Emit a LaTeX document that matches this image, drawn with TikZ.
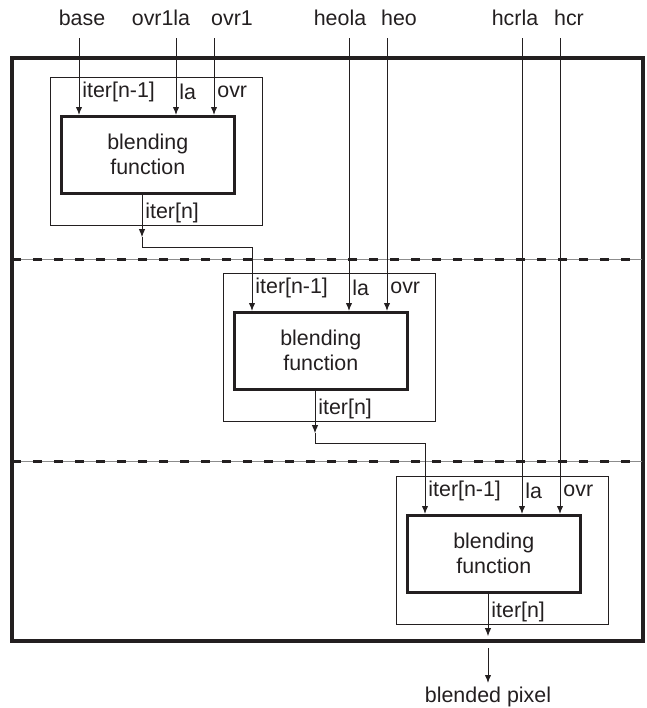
\documentclass[tikz,border=0pt]{standalone}
\usepackage{fontspec}
\setmainfont{Liberation Sans}
\usepackage{tikz}
\usetikzlibrary{arrows.meta, positioning, calc}
\definecolor{inkblack}{HTML}{231F20}
\definecolor{rulegray}{HTML}{8C8C8C}

\begin{document}
\begin{tikzpicture}[
  x=0.5pt, y=-0.5pt,
  every node/.style={font=\fontsize{10.7}{12.5}\selectfont, text=inkblack},
  modbox/.style={draw=inkblack, line width=0.6pt, minimum width=106pt, minimum height=74pt, anchor=north west, inner sep=0pt},
  blendbox/.style={draw=inkblack, line width=1.3pt, minimum width=86.5pt, minimum height=38.5pt, anchor=north west, align=center, inner sep=0pt},
  portlabel/.style={anchor=west, inner sep=1.5pt},
  toplabel/.style={inner sep=1pt},
  wire/.style={draw=inkblack, line width=0.5pt},
  conn/.style={wire, -{Latex[length=4pt,width=3.2pt]}},
  framebox/.style={draw=inkblack, line width=2.4pt},
  stagerule/.style={draw=inkblack, line width=1.5pt, dash pattern=on 4.5pt off 6pt,
    preaction={draw=rulegray, line width=0.5pt, solid}}
]
\useasboundingbox (0,0) rectangle (647,708);

% outer frame and stage separators
\draw[framebox] (12,58) rectangle (643,641);
\draw[stagerule] (12,259) -- (643,259);
\draw[stagerule] (12,461) -- (643,461);

% the three blending stages
\foreach \i/\mx/\my in {1/50/77, 2/223/273, 3/396/476} {
  \node[modbox] (mod\i) at (\mx,\my) {};
  \node[blendbox] (blend\i) at ($(mod\i.north west)+(10,38)$) {blending\\function};
  \coordinate (pin-iter\i) at ($(blend\i.north west)+(19,0)$);
  \coordinate (pin-la\i) at ($(blend\i.north west)+(116,0)$);
  \coordinate (pin-ovr\i) at ($(blend\i.north west)+(154,0)$);
  \coordinate (out\i) at ($(blend\i.south west)+(82,0)$);
  \coordinate (tip\i) at ($(out\i |- mod\i.south)+(0,11)$);
  \coordinate (bend\i) at ($(out\i |- mod\i.south)+(0,21)$);
  \node[portlabel] (lbliter\i) at ($(pin-iter\i)+(0,-23)$) {iter[n-1]};
  \node[portlabel] (lblla\i) at ($(pin-la\i)+(0,-23)$) {la};
  \node[portlabel] (lblovr\i) at ($(pin-ovr\i)+(0,-23)$) {ovr};
  \node[portlabel] (lblout\i) at ($(out\i)+(0,18)$) {iter[n]};
  \draw[conn] (out\i) -- (tip\i);
}

% external inputs
\node[toplabel] (base) at (82,18) {base};
\node[toplabel] (ovr1la) at (161,18) {ovr1la};
\node[toplabel] (ovr1) at (232,18) {ovr1};
\node[toplabel] (heola) at (340,18) {heola};
\node[toplabel] (heo) at (399,18) {heo};
\node[toplabel] (hcrla) at (515,18) {hcrla};
\node[toplabel] (hcr) at (569,18) {hcr};

\foreach \src/\dst in {base/iter1, ovr1la/la1, ovr1/ovr1, heola/la2, heo/ovr2, hcrla/la3, hcr/ovr3} {
  \coordinate (src-\src) at (pin-\dst |- 0,38);
  \draw[conn] (src-\src) -- (pin-\dst);
}

% chaining between stages
\draw[conn] (tip1) -- (bend1) -| (pin-iter2);
\draw[conn] (tip2) -- (bend2) -| (pin-iter3);

% final output
\coordinate (exit) at ($(tip3)+(0,12)$);
\node[anchor=north, inner sep=2pt] (pixel) at ($(out3 |- 0,683)$) {blended pixel};
\draw[conn] (exit) -- (pixel.north);
\end{tikzpicture}
\end{document}
